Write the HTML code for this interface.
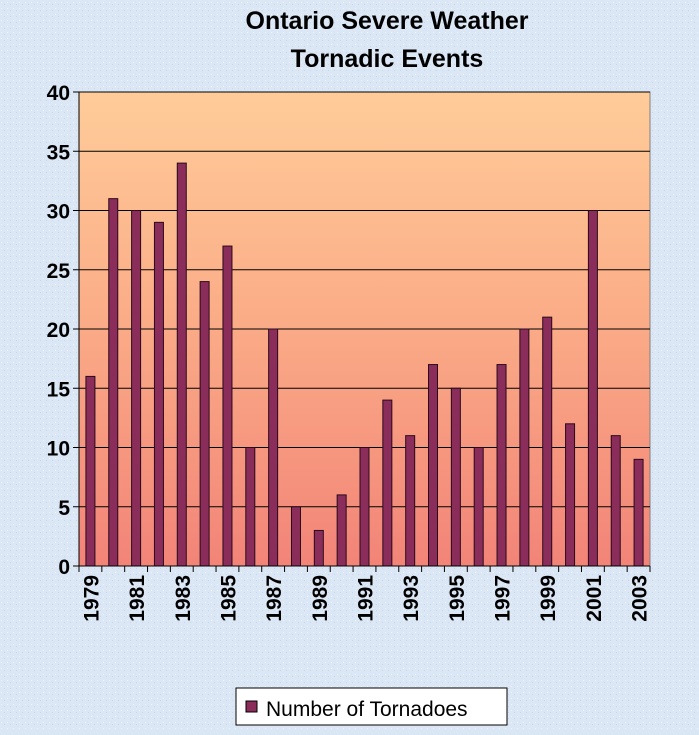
<!DOCTYPE html>
<html><head><meta charset="utf-8"><style>
body{margin:0;width:699px;height:730px;overflow:hidden;background:#d9e6f4;font-family:"Liberation Sans",Arial,sans-serif}
</style></head><body>
<svg width="699" height="730" xmlns="http://www.w3.org/2000/svg">
<defs>
<linearGradient id="pg" x1="0" y1="0" x2="0" y2="1">
<stop offset="0" stop-color="#ffcc99"/><stop offset="0.45" stop-color="#fbae88"/><stop offset="1" stop-color="#f28478"/>
</linearGradient>
<pattern id="tex" width="6" height="6" patternUnits="userSpaceOnUse"><rect width="6" height="6" fill="#dbe7f5"/><rect x="1" y="2" width="1" height="1" fill="#eef4fb"/><rect x="4" y="4" width="1" height="1" fill="#c8d8ec"/></pattern>
</defs>
<rect width="699" height="730" fill="url(#tex)"/>
<text x="387" y="29" text-anchor="middle" font-size="25" font-weight="bold" fill="#000">Ontario  Severe Weather</text>
<text x="387" y="67" text-anchor="middle" font-size="25" font-weight="bold" fill="#000">Tornadic Events</text>
<rect x="79" y="92" width="571" height="474" fill="url(#pg)" stroke="#808080"/>
<g id="grid"></g><g id="bars"></g><g id="axes"></g>
<g>
<rect x="236" y="688" width="271" height="37" fill="#fff" stroke="#000"/>
<rect x="246" y="701" width="11" height="11" fill="#8b2d5a" stroke="#000"/>
<text x="266" y="716" font-size="21" fill="#000">Number of Tornadoes</text>
</g>
</svg>
<script>
const years=[1979,1980,1981,1982,1983,1984,1985,1986,1987,1988,1989,1990,1991,1992,1993,1994,1995,1996,1997,1998,1999,2000,2001,2002,2003];
const counts=[16,31,30,29,34,24,27,10,20,5,3,6,10,14,11,17,15,10,17,20,21,12,30,11,9];
const yTicks=[0,5,10,15,20,25,30,35,40];
const NS="http://www.w3.org/2000/svg";
const L=79,R=650,T=92,B=566,yMax=40;
const slot=(R-L)/years.length;
const y=v=>B-(v/yMax)*(B-T);
const xc=i=>L+slot*(i+0.5);
function mk(tag,attrs,parent){const e=document.createElementNS(NS,tag);for(const k in attrs)e.setAttribute(k,attrs[k]);parent.appendChild(e);return e;}
const grid=document.getElementById('grid'),bars=document.getElementById('bars'),axes=document.getElementById('axes');
yTicks.forEach(t=>{
 if(t>0){const g=mk('line',{x1:L,x2:R,y1:y(t),y2:y(t),stroke:'#000','stroke-width':1},grid);
 
 }
 const tk=mk('line',{x1:L-6,x2:L,y1:y(t),y2:y(t),stroke:'#000'},axes);
 
 
 const lb=mk('text',{x:L-9,y:y(t)+8,'text-anchor':'end','font-size':21,'font-weight':'bold',fill:'#000'},axes);
 lb.textContent=t;
 
 
});
counts.forEach((v,i)=>{
 const r=mk('rect',{x:xc(i)-4.5,y:y(v),width:9,height:B-y(v),fill:'#8b2d5a',stroke:'#2a0a1a','stroke-width':1},bars);
 
 
});
mk('line',{x1:L,x2:L,y1:T,y2:B,stroke:'#000'},axes);
mk('line',{x1:L,x2:R,y1:B,y2:B,stroke:'#000'},axes);
for(let i=0;i<=years.length;i++){const tk=mk('line',{x1:L+slot*i,x2:L+slot*i,y1:B,y2:B+6,stroke:'#000'},axes);
 
 }
years.forEach((yr,i)=>{if(i%2)return;
 const lb=mk('text',{transform:`translate(${xc(i)+8},${B+9}) rotate(-90)`,'text-anchor':'end','font-size':21,'font-weight':'bold',fill:'#000'},axes);
 lb.textContent=yr;
 
 
});
</script>
</body></html>
